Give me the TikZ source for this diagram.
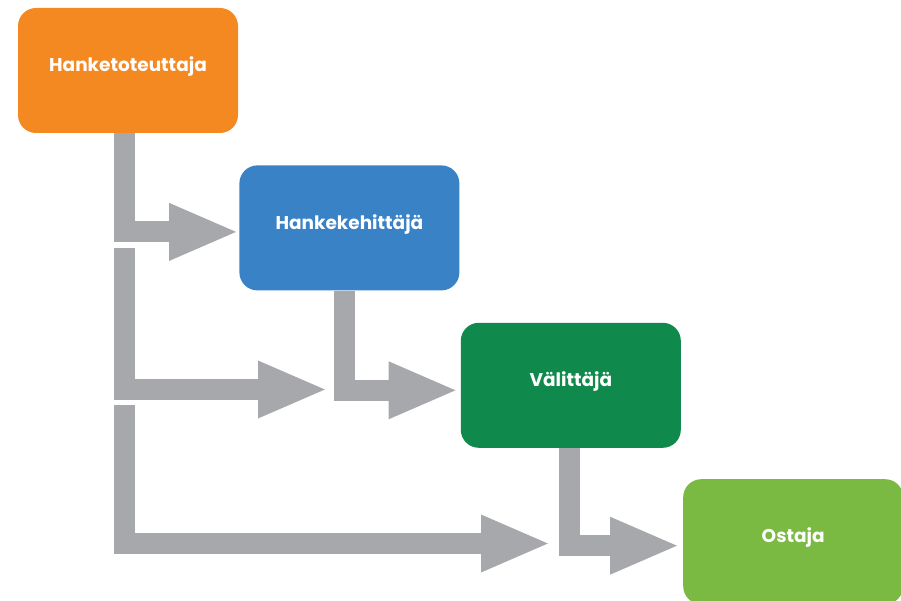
\documentclass[tikz,border=0pt]{standalone}
\usepackage{fontspec}
\setmainfont{Poppins}
\usetikzlibrary{positioning, arrows.meta, calc}

\definecolor{toteuttaja}{RGB}{244,136,33}
\definecolor{kehittaja}{RGB}{58,130,198}
\definecolor{valittaja}{RGB}{16,138,76}
\definecolor{ostaja}{RGB}{122,186,66}
\definecolor{virta}{RGB}{167,168,171}

\tikzset{
	rooli/.style={rectangle, rounded corners=18pt, minimum width=220pt, minimum height=125pt,
		inner sep=0pt, text=white, text height=12pt, text depth=9.5pt,
		font=\bfseries\fontsize{18.5}{22}\selectfont},
	virtaus/.style={draw=virta, line width=21pt, line join=miter,
		-{Triangle[length=70pt, width=52pt]}}
}

\begin{document}
\begin{tikzpicture}[x=1pt, y=-1pt]
	\useasboundingbox (0,0) rectangle (901,601);
	
	% roolit
	\node[rooli, fill=toteuttaja] (tot) at (128,70.5) {Hanketoteuttaja};
	\node[rooli, fill=kehittaja, below right=32pt and 1pt of tot] (keh) {Hankekehittäjä};
	\node[rooli, fill=valittaja, below right=32pt and 1pt of keh] (val) {Välittäjä};
	\node[rooli, fill=ostaja, below right=31pt and 2pt of val] (ost) {Ostaja};
	
	% virtojen päät
	\coordinate (t1) at ($(tot.south west)+(106.5,0)$);
	\coordinate (t2) at (124.5,248);
	\coordinate (t3) at (124.5,405);
	\coordinate (p2) at (328,389.5);
	\coordinate (p3) at (551,543.5);
	\coordinate (k1) at ($(keh.south west)+(105,0)$);
	\coordinate (v1) at ($(val.south west)+(109,0)$);
	
	% virrat
	\draw[virtaus] (t1) |- ([yshift=-4pt]keh.west);
	\draw[virtaus] (t2) |- (p2);
	\draw[virtaus] (t3) |- (p3);
	\draw[virtaus] (k1) |- ([xshift=-2pt, yshift=-5pt]val.west);
	\draw[virtaus] (v1) |- ([xshift=-3pt, yshift=-4pt]ost.west);
\end{tikzpicture}
\end{document}
